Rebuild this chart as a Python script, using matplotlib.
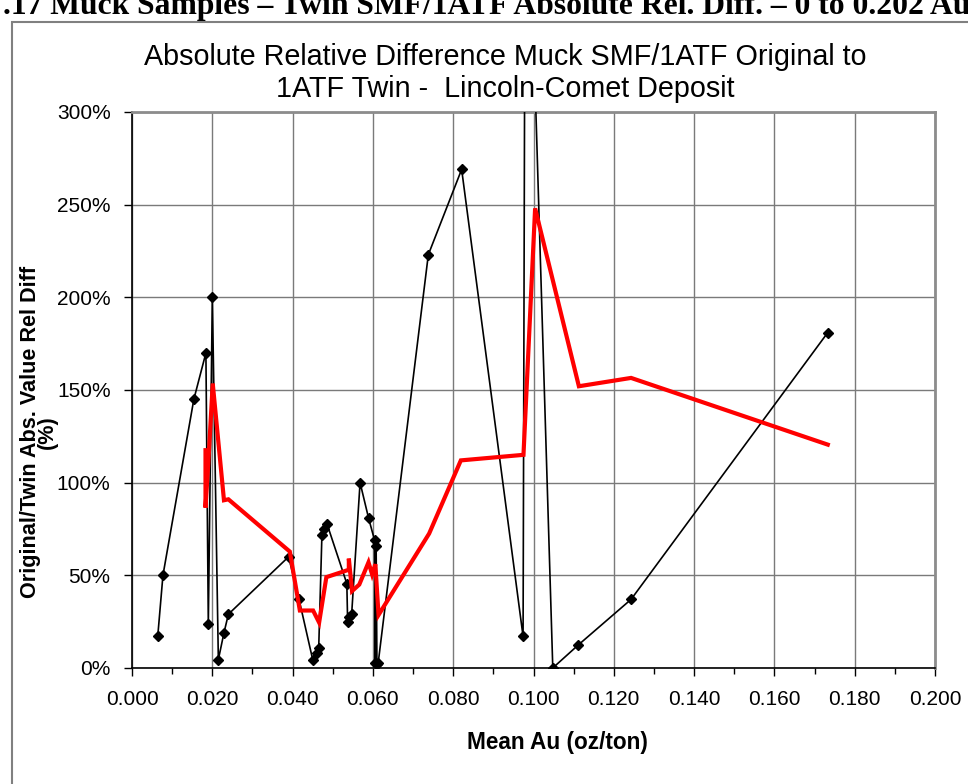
import matplotlib
matplotlib.use("Agg")
import matplotlib.pyplot as plt
from matplotlib.patches import Rectangle
from matplotlib.ticker import MultipleLocator, FuncFormatter

plt.rcParams['font.family'] = ['Liberation Sans', 'DejaVu Sans']

# Twin pairs: mean Au (oz/ton) vs absolute relative difference (%)
mean_au = [0.0064, 0.0077, 0.0154, 0.0184, 0.0190, 0.0200, 0.0215, 0.0229, 0.0240,
           0.0390, 0.0416, 0.0450, 0.0460, 0.0465, 0.0473, 0.0478, 0.0486,
           0.0535, 0.0537, 0.0541, 0.0547, 0.0568, 0.0589, 0.0604, 0.0606,
           0.0608, 0.0610, 0.0613, 0.0738, 0.0821, 0.0974, 0.0980, 0.1048,
           0.1112, 0.1243, 0.1733]
rel_diff = [17, 50, 145, 170, 23.5, 200, 4.5, 19, 29,
            60, 37, 4.5, 8, 11, 72, 75, 77.5,
            45.5, 25, 27.5, 29, 100, 81, 69, 2.5,
            66, 2, 2.5, 223, 269, 17, 485, 0,
            12.5, 37, 181]

# moving-average trend (red)
trend_x = [0.0183, 0.0183, 0.0190, 0.0201, 0.0229, 0.0240, 0.0393, 0.0418, 0.0451,
           0.0466, 0.0484, 0.0540, 0.0540, 0.0548, 0.0566, 0.0589, 0.0598, 0.0606,
           0.0614, 0.0740, 0.0819, 0.0975, 0.1004, 0.1113, 0.1243, 0.1733]
trend_y = [117.5, 86.5, 110.5, 153.5, 90.5, 91, 62.8, 31, 31,
           24.5, 49, 53, 59, 41.5, 45, 57, 50.5, 56,
           28.6, 72.5, 112, 115, 248, 152, 156.5, 120.5]

title = "Absolute Relative Difference Muck SMF/1ATF Original to\n1ATF Twin -  Lincoln-Comet Deposit"
header = ".17 Muck Samples \u2013 Twin SMF/1ATF Absolute Rel. Diff. \u2013 0 to 0.202 Au"

fig = plt.figure(figsize=(9.68, 7.84), dpi=100)
ax = fig.add_axes([0.1364, 0.148, 0.8295, 0.7092])

# outer chart frame (runs past the right and bottom edges)
fig.patches.append(Rectangle((12 / 968, -0.1), 1.2, 1 - 22 / 784 + 0.1,
                             transform=fig.transFigure, fill=False,
                             edgecolor='#808080', linewidth=1.5))
# page caption above the chart, cut by the top edge
fig.text(0.003, 1 - 14 / 784, header, fontsize=22.8, fontweight='bold',
         family=['Liberation Serif', 'DejaVu Serif'], va='baseline', ha='left')

ax.plot(mean_au, rel_diff, color='black', linewidth=1.2, marker='D',
        markersize=5.5, zorder=3)
ax.plot(trend_x, trend_y, color='#ff0000', linewidth=3, zorder=4,
        solid_joinstyle='miter')

ax.set_xlim(0, 0.2)
ax.set_ylim(0, 300)
ax.xaxis.set_major_locator(MultipleLocator(0.02))
ax.xaxis.set_minor_locator(MultipleLocator(0.01))
ax.yaxis.set_major_locator(MultipleLocator(50))
ax.xaxis.set_major_formatter(FuncFormatter(lambda v, p: "%.3f" % v))
ax.yaxis.set_major_formatter(FuncFormatter(lambda v, p: "%d%%" % round(v)))
ax.tick_params(axis='both', which='major', labelsize=15, direction='out',
               length=6, width=1, color='black')
ax.tick_params(axis='x', which='minor', direction='out', length=4, width=1)
ax.tick_params(axis='x', pad=10)
ax.tick_params(axis='y', pad=9.5)

ax.grid(True, which='major', color='#7a7a7a', linewidth=1)
ax.set_axisbelow(True)
for side in ['top', 'right']:
    ax.spines[side].set_color('#8c8c8c')
    ax.spines[side].set_linewidth(2)
for side in ['left', 'bottom']:
    ax.spines[side].set_color('black')
    ax.spines[side].set_linewidth(1.2)

fig.text(557 / 968, 1 - 742 / 784, "Mean Au (oz/ton)", fontsize=16.3,
         fontweight='bold', ha='center', va='center')
fig.text(39 / 968, 1 - 432 / 784, "Original/Twin Abs. Value Rel Diff\n(%)",
         fontsize=15.6, fontweight='bold', rotation=90, ha='center',
         va='center', multialignment='center', linespacing=0.72)
fig.text(505 / 968, 1 - 73 / 784, title, fontsize=20.7, ha='center',
         va='center', multialignment='center', linespacing=1.18)

fig.savefig("out.png", dpi=100)
